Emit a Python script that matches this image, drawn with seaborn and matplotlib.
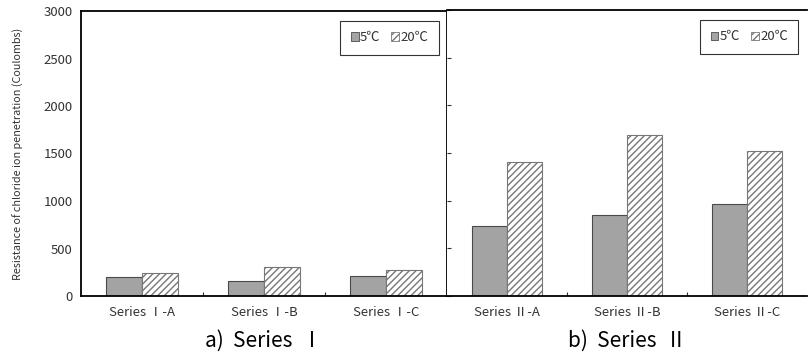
import matplotlib
matplotlib.use("Agg")
import matplotlib.pyplot as plt
import seaborn as sns
import pandas as pd
from matplotlib.patches import Patch

sns.set_theme(style="white")
plt.rcParams['font.family'] = ['Noto Sans CJK KR', 'DejaVu Sans']
plt.rcParams['hatch.linewidth'] = 1.0

temps = ["5℃", "20℃"]
cats_1 = ["Series Ⅰ-A", "Series Ⅰ-B", "Series Ⅰ-C"]
vals_1_5 = [197, 157, 206]
vals_1_20 = [238, 310, 272]
cats_2 = ["Series Ⅱ-A", "Series Ⅱ-B", "Series Ⅱ-C"]
vals_2_5 = [730, 852, 960]
vals_2_20 = [1410, 1688, 1525]
yticks = [0, 500, 1000, 1500, 2000, 2500, 3000]
ylabel = "Resistance of chloride ion penetration (Coulombs)"
subtitles = ["a)  Series  Ⅰ", "b)  Series  Ⅱ"]

fig = plt.figure(figsize=(8.09, 3.57), dpi=100)
ax1 = fig.add_axes([81/809, 61/357, 366/809, 285/357])
ax2 = fig.add_axes([447.5/809, 61/357, 359/809, 286/357])

fill5 = "#a3a3a3"
edge = "#4a4a4a"
hatch_edge = "#777777"

def panel(ax, cats, v5, v20, subtitle):
    df = pd.DataFrame({
        "cat": cats * 2,
        "val": list(v5) + list(v20),
        "temp": [temps[0]] * 3 + [temps[1]] * 3,
    })
    sns.barplot(data=df, x="cat", y="val", hue="temp", order=cats, hue_order=temps,
                palette=[fill5, "white"], width=0.585, ax=ax, legend=False,
                saturation=1, edgecolor=edge, linewidth=0.8, errorbar=None)
    for b in ax.containers[1]:
        b.set_facecolor("white")
        b.set_hatch("/////")
        b.set_edgecolor(hatch_edge)
    for b in ax.containers[0]:
        b.set_facecolor(fill5)
        b.set_edgecolor(edge)
    ax.set_xlim(-0.5, 2.5)
    ax.set_ylim(0, 3000)
    ax.set_yticks(yticks)
    ax.set_xlabel(subtitle, fontsize=15, labelpad=8, color="black")
    ax.set_ylabel("")
    ax.set_xticks([0, 1, 2])
    ax.set_xticklabels(cats, fontsize=9.5, color="#333333")
    ax.tick_params(axis="x", length=0, pad=7)
    ax.set_xticks([0.5, 1.5], minor=True)
    ax.tick_params(axis="x", which="minor", direction="in", length=3, width=0.8,
                   color="#333333", bottom=True)
    for s in ax.spines.values():
        s.set_color("black")
        s.set_linewidth(1.3)
    handles = [Patch(facecolor=fill5, edgecolor=edge, linewidth=0.6),
               Patch(facecolor="white", edgecolor=hatch_edge, hatch="/////", linewidth=0.6)]
    leg = ax.legend(handles, temps, loc="upper right", bbox_to_anchor=(0.985, 0.975),
                    ncol=2, frameon=True, fancybox=False, fontsize=9.5,
                    handlelength=0.6, handleheight=0.6, handletextpad=0.1,
                    columnspacing=0.8, borderpad=0.8, borderaxespad=0.2)
    leg.get_frame().set_edgecolor("black")
    leg.get_frame().set_linewidth(0.8)
    for t in leg.get_texts():
        t.set_color("#333333")

panel(ax1, cats_1, vals_1_5, vals_1_20, subtitles[0])
ax1.tick_params(axis="y", length=0, labelsize=9.5, colors="#333333", pad=6)
ax1.set_ylabel(ylabel, fontsize=7.8, color="#333333", labelpad=14)

panel(ax2, cats_2, vals_2_5, vals_2_20, subtitles[1])
ax2.tick_params(axis="y", direction="in", length=3, width=0.8, color="#333333",
                labelleft=False, left=True)
ax2.spines["right"].set_visible(False)
ax2.spines["left"].set_visible(False)

fig.savefig("out.png", dpi=100, facecolor="white")
